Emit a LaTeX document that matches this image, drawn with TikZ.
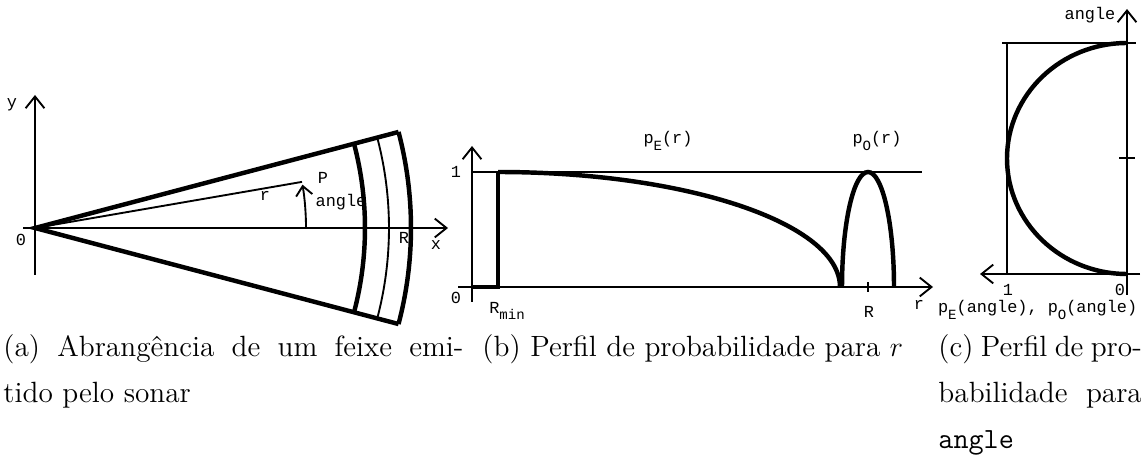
\documentclass[tikz,border=0pt]{standalone}
\usepackage{fontspec}
\newfontfamily\figfont{Liberation Mono}
\usetikzlibrary{arrows.meta,calc}
\newcommand{\lowsub}[1]{\raisebox{-0.7ex}{\fontsize{6}{6}\selectfont #1}}
\tikzset{
  thinline/.style={line width=0.8pt},
  thickline/.style={line width=1.9pt},
  axis/.style={line width=0.8pt,-{Straight Barb[length=5pt,width=8pt]}},
  lbl/.style={font=\fontsize{7.2}{7}\selectfont\figfont,inner sep=1pt},
  capt/.style={font=\fontsize{12.5}{19.6}\selectfont,anchor=north west,align=justify,inner sep=0pt},
}

\begin{document}
\begin{tikzpicture}[x=0.015cm,y=0.015cm]
\useasboundingbox (0,0) rectangle (1141,473);

% (a) beam of the sonar
\coordinate (O) at (35,245);
\draw[axis] (23,245) -- (448,245);
\draw[axis] (35,198) -- (35,378);
\draw[thickline] ($(O)+(14.8:376)$) -- (O) -- ($(O)+(-14.8:376)$);
\draw[thickline] ($(O)+(-14.8:376)$) arc[start angle=-14.8,end angle=14.8,radius=376];
\draw[thickline] ($(O)+(-14.8:330)$) arc[start angle=-14.8,end angle=14.8,radius=330];
\draw[thinline] ($(O)+(-14.8:354)$) arc[start angle=-14.8,end angle=14.8,radius=354];
\draw[thinline] (O) -- ($(O)+(9.8:271)$) coordinate (P);
\draw[thinline,-{Straight Barb[length=4pt,width=7pt]}] ($(O)+(0:271)$) arc[start angle=0,end angle=9.2,radius=271];
\node[lbl] (ylbl) at (12,368) {y};
\node[lbl] (olbl) at (21,233) {0};
\node[lbl] (xlbl) at (436,228) {x};
\node[lbl] (Rlbl) at (404,235) {R};
\node[lbl] (rlbl) at (265,277) {r};
\node[lbl] (Plbl) at (323,295) {P};
\node[lbl] (anglbl) at (341,271) {angle};

% (b) profile in r
\draw[axis] (472,171) -- (472,327);
\draw[axis] (458,186) -- (933,186);
\draw[thinline] (472,301) -- (922,301);
\draw[thickline] (472,186) -- (498,186) -- (498,301);
\draw[thickline] (498,301) arc[start angle=90,end angle=0,x radius=342,y radius=115];
\draw[thickline] (842,186) arc[start angle=180,end angle=0,x radius=26,y radius=115];
\draw[thinline] (868,181) -- (868,191);
\node[lbl] (onelbl) at (456,301) {1};
\node[lbl] (zerolbl) at (456,175) {0};
\node[lbl] (rminlbl) at (507,162) {R\lowsub{min}};
\node[lbl] (Rblbl) at (869,161) {R};
\node[lbl] (rblbl) at (919,168) {r};
\node[lbl] (pElbl) at (668,332) {p\lowsub{E}(r)};
\node[lbl] (pOlbl) at (877,332) {p\lowsub{O}(r)};

% (c) profile in angle
\draw[axis] (1127,178) -- (1127,464);
\draw[axis] (1140,199) -- (980,199);
\draw[thinline] (1002,430) -- (1136,430);
\draw[thinline] (1007,199) -- (1007,430);
\draw[thickline] (1127,430) arc[start angle=90,end angle=270,x radius=120,y radius=115.5];
\draw[thinline] (1119,315) -- (1135,315);
\node[lbl] (anglelbl) at (1090,458) {angle};
\node[lbl] (onecl) at (1008,183) {1};
\node[lbl] (zerocl) at (1120,183) {0};
\node[lbl,anchor=east] (pcl) at (1140,163) {p\lowsub{E}(angle), p\lowsub{O}(angle)};

% captions
\node[capt,text width=6.9cm] (capa) at (3,139) {(a) Abrangência de um feixe emi-\linebreak tido pelo sonar};
\node[capt] (capb) at (482,139) {(b) Perfil de probabilidade para $r$};
\node[capt,text width=3.05cm] (capc) at (938,139) {(c) Perfil de pro-\linebreak babilidade para\linebreak \texttt{angle}};
\end{tikzpicture}
\end{document}
